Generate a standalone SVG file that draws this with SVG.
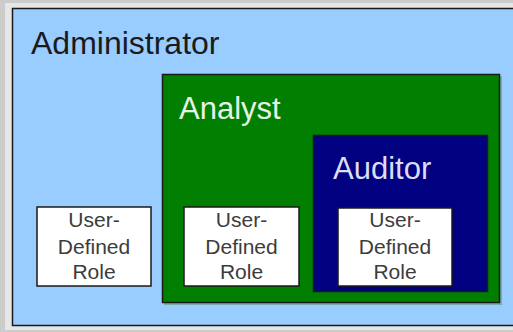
<svg xmlns="http://www.w3.org/2000/svg" width="513" height="332" viewBox="0 0 513 332">
<style>
.box{stroke:#1a1a1a;stroke-width:1.5}
.title{font-family:"Liberation Sans",Arial,sans-serif;font-size:31px}
.role{font-family:"Liberation Sans",Arial,sans-serif;font-size:21px;fill:#3c3c3c;text-anchor:middle}
.udr{fill:#ffffff}
</style>
<rect x="0" y="0" width="513" height="332" fill="#cccccc"/>
<rect x="5" y="3" width="510" height="327" fill="#e6e6e6"/>
<g id="administrator">
<rect class="box" x="12.5" y="8.5" width="510" height="317" fill="#99ccff"/>
<text class="title" x="31" y="54" fill="#1a1a1a" style="font-size:32px">Administrator</text>
</g>
<g id="udr-admin">
<rect class="box udr" x="37" y="207" width="114" height="79"/>
<text class="role" x="94" y="227">User-</text>
<text class="role" x="94" y="254">Defined</text>
<text class="role" x="94" y="279">Role</text>
</g>
<g id="analyst">
<rect x="164" y="76" width="338" height="229" fill="#5a8a5a" opacity="0.5"/>
<rect class="box" x="162.5" y="74.5" width="337" height="228" fill="#007f00"/>
<text class="title" x="179" y="119" fill="#e6f2e6">Analyst</text>
</g>
<g id="udr-analyst">
<rect class="box udr" x="184" y="207" width="115" height="79"/>
<text class="role" x="241.5" y="227">User-</text>
<text class="role" x="241.5" y="254">Defined</text>
<text class="role" x="241.5" y="279">Role</text>
</g>
<g id="auditor">
<rect class="box" x="313.5" y="135.5" width="174" height="156" fill="#000080"/>
<text class="title" x="333" y="179" fill="#dcdcf2">Auditor</text>
</g>
<g id="udr-auditor">
<rect class="box udr" x="338" y="208" width="114" height="78"/>
<text class="role" x="395" y="227">User-</text>
<text class="role" x="395" y="254">Defined</text>
<text class="role" x="395" y="279">Role</text>
</g>
<g id="connectors"></g>
</svg>
